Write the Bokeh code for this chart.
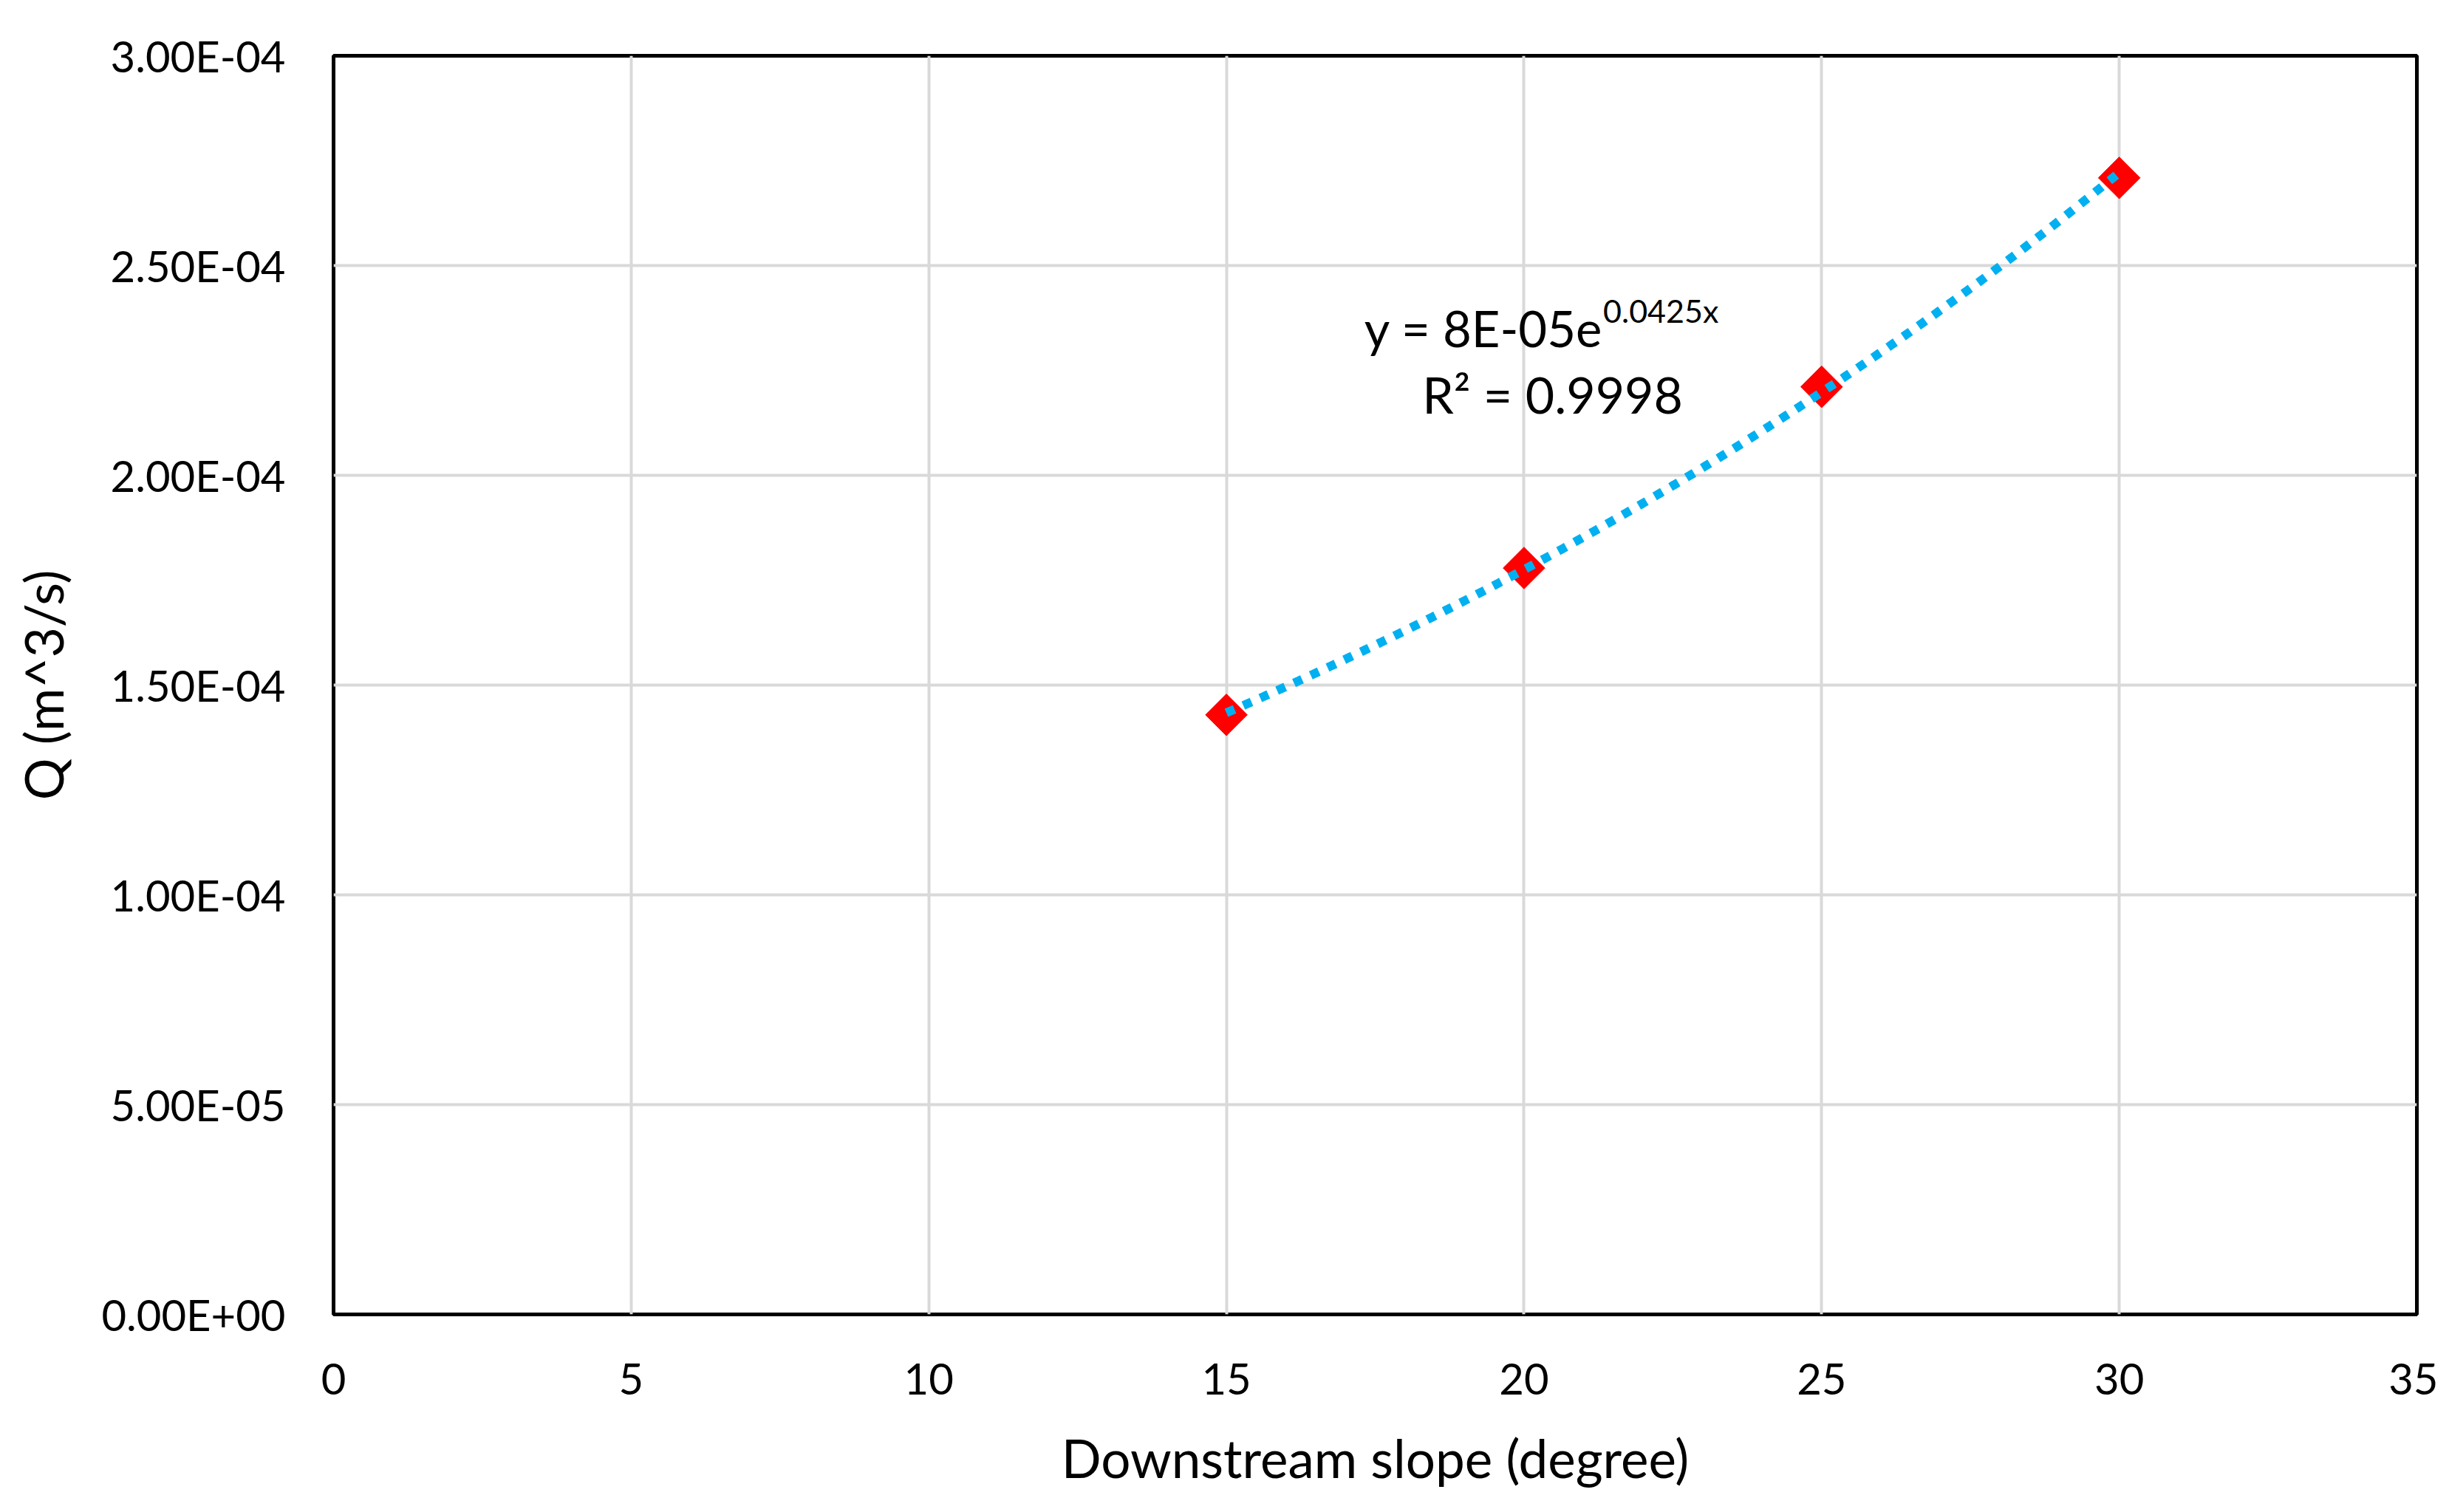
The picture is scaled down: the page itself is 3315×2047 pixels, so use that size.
import numpy as np
from bokeh.plotting import figure
from bokeh.models import Label, FixedTicker, CustomJSTickFormatter, Range1d
from bokeh.embed import file_html
from bokeh.resources import INLINE

# ---- data ----
slope_deg = [15, 20, 25, 30]
discharge = [1.429e-4, 1.779e-4, 2.211e-4, 2.709e-4]

x_ticks = [0, 5, 10, 15, 20, 25, 30, 35]
y_ticks = [0.0, 5e-5, 1e-4, 1.5e-4, 2e-4, 2.5e-4, 3e-4]

eq_main = "y = 8E-05e"
eq_sup = "0.0425x"
r2_text = "R\u00b2 = 0.9998"
x_title = "Downstream slope (degree)"
y_title = "Q (m^3/s)"

FONT = "Lato"

p = figure(frame_width=2820, frame_height=1704,
           x_range=Range1d(0, 35), y_range=Range1d(0, 3e-4),
           output_backend="svg", toolbar_location=None,
           min_border_left=451, min_border_right=29,
           min_border_top=75, min_border_bottom=245)

p.background_fill_color = "white"
p.border_fill_color = "white"
p.outline_line_color = "black"
p.outline_line_width = 5

# grid
p.xgrid.ticker = FixedTicker(ticks=x_ticks)
p.ygrid.ticker = FixedTicker(ticks=y_ticks)
for g in (p.xgrid, p.ygrid):
    g.grid_line_color = "#D9D9D9"
    g.grid_line_width = 4

# axes
p.xaxis.ticker = FixedTicker(ticks=x_ticks)
p.yaxis.ticker = FixedTicker(ticks=y_ticks)
p.yaxis.formatter = CustomJSTickFormatter(code="""
const m = tick.toExponential(2).split('e');
let e = parseInt(m[1]);
const sign = e < 0 ? '-' : '+';
e = Math.abs(e);
return m[0] + 'E' + sign + (e < 10 ? '0' + e : '' + e);
""")
for ax in (p.xaxis, p.yaxis):
    ax.axis_line_color = None
    ax.major_tick_line_color = None
    ax.minor_tick_line_color = None
    ax.major_tick_out = 0
    ax.major_tick_in = 0
    ax.major_label_text_font = FONT
    ax.major_label_text_font_size = "58px"
    ax.major_label_text_color = "black"
    ax.axis_label_text_font = FONT
    ax.axis_label_text_font_size = "71px"
    ax.axis_label_text_font_style = "normal"
    ax.axis_label_text_color = "black"

p.xaxis.axis_label = x_title
p.yaxis.axis_label = y_title
p.xaxis.major_label_standoff = 66
p.yaxis.major_label_standoff = 65
p.xaxis.axis_label_standoff = 40
p.yaxis.axis_label_standoff = 33

# markers
p.scatter(slope_deg, discharge, marker="square", size=40, angle=np.pi / 4,
          fill_color="#FF0000", line_color="#FF0000")

# exponential trendline fitted to the data
b, lna = np.polyfit(np.array(slope_deg, float), np.log(np.array(discharge)), 1)
xs = np.linspace(min(slope_deg), max(slope_deg), 300)
ys = np.exp(lna) * np.exp(b * xs)
p.line(xs, ys, line_color="#00B0F0", line_width=12, line_dash="12 13",
       line_cap="butt")

# equation labels
p.add_layout(Label(x=21.33, y=2.352e-4, text=eq_main, text_align="right",
                   text_baseline="alphabetic", text_font=FONT,
                   text_font_size="67px", text_color="black"))
p.add_layout(Label(x=21.33, y=2.393e-4, text=eq_sup, text_align="left",
                   text_baseline="alphabetic", text_font=FONT,
                   text_font_size="43px", text_color="black"))
p.add_layout(Label(x=18.29, y=2.194e-4, text=r2_text, text_align="left",
                   text_baseline="alphabetic", text_font=FONT,
                   text_font_size="68px", text_color="black"))

open("out.html", "w").write(file_html(p, INLINE))
